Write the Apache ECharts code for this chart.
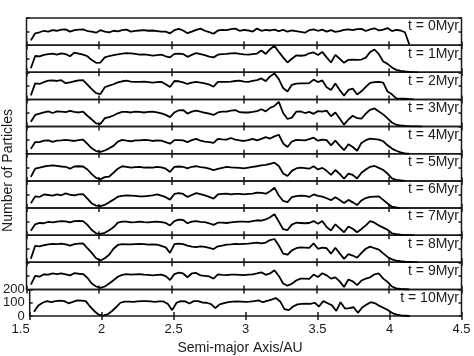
<!DOCTYPE html>
<html>
<head>
<meta charset="utf-8">
<script src="https://cdn.jsdelivr.net/npm/echarts@6/dist/echarts.min.js"></script>
<style>
  html, body { margin: 0; padding: 0; background: #fff; }
  #main { width: 474px; height: 356px; }
</style>
</head>
<body>
<div id="main"></div>
<script>
// semi-major axis bins (AU)
var xs = [1.53, 1.56, 1.59, 1.62, 1.65, 1.68, 1.71, 1.74, 1.77, 1.80, 1.83, 1.86, 1.89, 1.92, 1.95, 1.98,
  2.01, 2.04, 2.07, 2.10, 2.13, 2.16, 2.19, 2.22, 2.25, 2.28, 2.31, 2.34, 2.37, 2.40, 2.43, 2.46, 2.49,
  2.52, 2.55, 2.58, 2.61, 2.64, 2.67, 2.70, 2.73, 2.76, 2.79, 2.82, 2.85, 2.88, 2.91, 2.94, 2.97, 3.00,
  3.03, 3.06, 3.09, 3.12, 3.15, 3.18, 3.21, 3.24, 3.27, 3.30, 3.33, 3.36, 3.39, 3.42, 3.45, 3.48, 3.51,
  3.54, 3.57, 3.60, 3.63, 3.66, 3.69, 3.72, 3.75, 3.78, 3.81, 3.84, 3.87, 3.90, 3.93, 3.96, 3.99, 4.02,
  4.05, 4.08, 4.11, 4.14, 4.17, 4.20, 4.23];

// number of particles per bin, one array per snapshot
var t0 = [35, 87, 95, 106, 100, 111, 106, 114, 116, 100, 111, 114, 116, 104, 99, 92, 110, 100, 94, 106,
  102, 111, 114, 100, 105, 108, 111, 106, 108, 104, 100, 100, 87, 110, 120, 108, 88, 100, 112, 122, 106,
  96, 84, 108, 112, 110, 118, 122, 106, 112, 108, 100, 122, 106, 112, 108, 114, 104, 112, 100, 108, 104,
  98, 92, 110, 116, 106, 114, 100, 110, 98, 104, 112, 116, 110, 118, 120, 104, 116, 124, 108, 114, 126,
  104, 112, 108, 95, 5];
var t1 = [30, 120, 118, 128, 134, 138, 130, 140, 134, 118, 145, 138, 130, 118, 90, 70, 72, 110, 120, 126,
  132, 138, 142, 140, 136, 130, 132, 128, 123, 126, 130, 118, 110, 136, 138, 134, 114, 128, 142, 134, 126,
  116, 110, 130, 134, 136, 140, 142, 136, 132, 130, 134, 138, 160, 135, 170, 195, 150, 110, 72, 100, 124,
  122, 124, 140, 146, 128, 150, 110, 72, 128, 100, 70, 92, 94, 92, 94, 108, 150, 168, 134, 80, 62, 36, 18,
  10, 6, 3, 1, 0];
var t2 = [30, 118, 114, 128, 138, 140, 136, 142, 120, 126, 134, 140, 142, 110, 76, 46, 40, 90, 102, 112,
  126, 134, 138, 132, 130, 130, 132, 128, 124, 128, 130, 112, 92, 136, 134, 126, 114, 124, 130, 124, 118,
  110, 94, 130, 130, 130, 132, 136, 138, 132, 130, 136, 142, 155, 135, 170, 192, 150, 84, 58, 108, 116,
  118, 118, 120, 146, 128, 140, 90, 70, 118, 70, 28, 70, 80, 36, 60, 92, 122, 128, 130, 124, 58, 38, 8,
  6, 5, 3, 1];
var t3 = [36, 86, 96, 104, 112, 100, 112, 110, 106, 116, 108, 104, 110, 80, 52, 24, 20, 62, 70, 82, 98,
  108, 108, 104, 110, 108, 104, 108, 110, 104, 98, 86, 70, 104, 120, 122, 96, 110, 118, 110, 102, 96, 86,
  104, 110, 110, 118, 122, 106, 104, 104, 108, 114, 128, 112, 138, 152, 182, 100, 56, 66, 110, 112, 100,
  108, 94, 114, 110, 118, 76, 104, 60, 14, 52, 80, 62, 58, 96, 124, 134, 112, 90, 60, 30, 14, 8, 5, 3, 2,
  1, 0];
var t4 = [36, 86, 86, 96, 98, 88, 96, 98, 102, 98, 94, 100, 104, 72, 40, 20, 14, 24, 40, 58, 90, 102, 96,
  92, 98, 98, 102, 100, 94, 98, 96, 86, 74, 100, 100, 98, 86, 100, 110, 96, 90, 86, 80, 110, 106, 104, 116,
  104, 98, 94, 100, 110, 98, 110, 122, 112, 128, 140, 76, 50, 90, 102, 100, 98, 108, 118, 96, 104, 100, 62,
  96, 60, 26, 70, 50, 22, 80, 100, 112, 108, 104, 92, 62, 38, 22, 10, 2, 0];
var t5 = [30, 90, 98, 106, 110, 114, 110, 106, 104, 90, 106, 108, 106, 84, 50, 22, 12, 28, 32, 60, 90,
  108, 104, 98, 102, 104, 98, 100, 98, 104, 100, 90, 66, 104, 106, 104, 92, 104, 108, 102, 98, 90, 80, 88,
  96, 104, 100, 98, 96, 92, 98, 104, 108, 114, 118, 126, 134, 110, 54, 36, 74, 92, 98, 94, 90, 108, 84, 96,
  74, 44, 80, 52, 16, 54, 44, 18, 60, 84, 104, 110, 96, 80, 54, 18, 8, 4, 0];
var t6 = [36, 86, 82, 100, 96, 92, 100, 94, 108, 98, 94, 100, 102, 70, 34, 18, 14, 24, 42, 62, 84, 90, 94,
  92, 90, 86, 86, 90, 94, 100, 92, 80, 62, 104, 110, 104, 82, 96, 110, 102, 94, 82, 70, 100, 104, 106, 100,
  104, 104, 100, 104, 106, 114, 112, 106, 124, 150, 92, 52, 44, 80, 88, 92, 90, 82, 100, 90, 84, 72, 58, 80,
  60, 38, 60, 42, 22, 56, 74, 82, 84, 86, 60, 34, 10, 4, 0];
var t7 = [32, 80, 90, 88, 98, 94, 100, 104, 102, 94, 104, 106, 104, 76, 38, 14, 10, 18, 36, 58, 92, 100,
  100, 94, 96, 100, 96, 94, 98, 100, 96, 90, 72, 104, 114, 112, 88, 100, 104, 98, 96, 88, 76, 92, 92, 90, 94,
  98, 100, 100, 98, 104, 110, 108, 116, 132, 154, 100, 44, 38, 78, 92, 90, 88, 90, 104, 84, 104, 60, 34, 80,
  50, 22, 64, 48, 22, 46, 72, 104, 92, 72, 56, 40, 14, 8, 4, 2, 1, 0];
var t8 = [26, 122, 118, 126, 132, 136, 134, 138, 132, 124, 134, 138, 140, 104, 70, 30, 14, 30, 56, 100,
  128, 134, 132, 132, 134, 136, 134, 130, 132, 130, 122, 110, 70, 134, 138, 134, 124, 116, 112, 118, 114,
  106, 98, 118, 124, 130, 132, 136, 134, 136, 138, 142, 146, 140, 146, 164, 172, 124, 64, 56, 88, 104, 110,
  108, 106, 140, 100, 108, 104, 64, 108, 66, 26, 60, 50, 34, 70, 100, 116, 104, 94, 66, 40, 22, 12, 8, 5, 3,
  1, 0];
var t9 = [36, 100, 94, 112, 110, 118, 114, 118, 112, 104, 120, 116, 114, 86, 44, 22, 12, 22, 44, 68, 94,
  108, 114, 110, 112, 114, 110, 108, 104, 108, 110, 98, 70, 114, 124, 118, 90, 118, 122, 104, 100, 96, 80,
  112, 108, 106, 110, 110, 108, 106, 110, 112, 118, 126, 108, 118, 142, 100, 44, 28, 42, 66, 80, 80, 78, 110,
  92, 120, 104, 80, 90, 60, 18, 74, 60, 32, 66, 80, 90, 112, 118, 80, 56, 22, 8, 4, 2, 0];
var t10 = [32, 80, 100, 112, 104, 112, 116, 112, 96, 106, 118, 116, 112, 70, 36, 10, 2, 12, 36, 66, 100,
  108, 108, 106, 110, 112, 112, 110, 106, 110, 110, 90, 44, 100, 112, 110, 94, 112, 112, 102, 100, 90, 60,
  88, 98, 104, 108, 110, 108, 106, 108, 112, 118, 104, 114, 124, 136, 110, 52, 44, 72, 88, 92, 94, 92, 100,
  72, 112, 96, 80, 38, 104, 56, 60, 66, 24, 64, 86, 104, 96, 76, 60, 44, 22, 10, 4, 2, 0];

var snapshots = [t0, t1, t2, t3, t4, t5, t6, t7, t8, t9, t10];
var panelLabels = ['t = 0Myr', 't = 1Myr', 't = 2Myr', 't = 3Myr', 't = 4Myr', 't = 5Myr',
  't = 6Myr', 't = 7Myr', 't = 8Myr', 't = 9Myr', 't = 10Myr'];

var chart = echarts.init(document.getElementById('main'), null, { renderer: 'canvas' });

var FONT = 'Liberation Sans, Arial, Helvetica, sans-serif';
var INK = '#1a1a1a';
var top0 = 18, panelH = 27.15, nP = snapshots.length;
var last = nP - 1;

var grids = [], xAxes = [], yAxes = [], series = [], titles = [];

snapshots.forEach(function (vals, k) {
  var top = top0 + k * panelH;
  grids.push({
    left: 26.5, right: 12.5, top: top, height: panelH,
    show: true, borderColor: INK, borderWidth: 1.5
  });
  var tick = { show: true, inside: true, length: 4, lineStyle: { color: INK, width: 1.5 } };
  xAxes.push({
    gridIndex: k, type: 'value', min: 1.5, max: 4.5, interval: 0.5, position: 'bottom',
    axisLine: { show: false }, splitLine: { show: false }, axisTick: tick,
    axisLabel: {
      show: k === last, color: INK, fontSize: 13, fontFamily: FONT, margin: 7,
      alignMinLabel: 'right',
      formatter: function (v) { return String(+v.toFixed(1)); }
    },
    name: k === last ? 'Semi-major Axis/AU' : '',
    nameLocation: 'middle', nameGap: 25,
    nameTextStyle: { color: INK, fontSize: 14, fontFamily: FONT, padding: [0, 11, 0, 0] }
  });
  xAxes.push({
    gridIndex: k, type: 'value', min: 1.5, max: 4.5, interval: 0.5, position: 'top',
    axisLine: { show: false }, splitLine: { show: false }, axisTick: tick,
    axisLabel: { show: false }
  });
  yAxes.push({
    gridIndex: k, type: 'value', min: 0, max: 200, interval: 100, position: 'left',
    axisLine: { show: false }, splitLine: { show: false },
    axisTick: { show: true, inside: true, length: 3, lineStyle: { color: INK, width: 1.5 } },
    axisLabel: { show: k === last, color: INK, fontSize: 13, fontFamily: FONT, margin: 5 }
  });
  yAxes.push({
    gridIndex: k, type: 'value', min: 0, max: 200, interval: 100, position: 'right',
    axisLine: { show: false }, splitLine: { show: false },
    axisTick: { show: true, inside: true, length: 3, lineStyle: { color: INK, width: 1.5 } },
    axisLabel: { show: false }
  });
  series.push({
    type: 'line', xAxisIndex: 2 * k, yAxisIndex: 2 * k,
    data: vals.map(function (v, i) { return [xs[i], v]; }),
    symbol: 'none', silent: true, animation: false,
    lineStyle: { color: '#000', width: 1.8 }
  });
  titles.push({
    text: panelLabels[k], right: 15, top: top + 1.5, padding: 0,
    textStyle: { color: INK, fontSize: 14, fontWeight: 'normal', fontFamily: FONT }
  });
});

var option = {
  animation: false,
  backgroundColor: '#fff',
  title: titles,
  grid: grids,
  xAxis: xAxes,
  yAxis: yAxes,
  series: series,
  graphic: [{
    type: 'text', left: 1, top: 109, rotation: Math.PI / 2,
    style: { text: 'Number of Particles', fill: INK, fontSize: 14, fontFamily: FONT }
  }]
};

chart.setOption(option);
</script>
</body>
</html>
